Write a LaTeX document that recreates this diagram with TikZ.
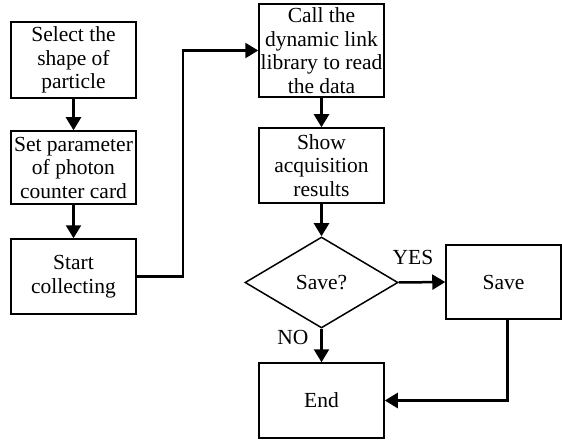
\documentclass[tikz,border=0pt]{standalone}
\usepackage{fontspec}
\setmainfont{Liberation Serif}
\usetikzlibrary{shapes.geometric, arrows.meta, positioning}

\begin{document}
\begin{tikzpicture}[
            x=1pt, y=-1pt,
            box/.style={rectangle, draw, line width=1.5pt, minimum width=125pt,
                        inner sep=0pt, align=center,
                        font=\fontsize{21.5}{23.5}\selectfont},
            decision/.style={diamond, draw, line width=1.5pt, aspect=1.68,
                             minimum width=153pt, minimum height=91pt, inner sep=0pt,
                             font=\fontsize{21.5}{23.5}\selectfont},
            lbl/.style={font=\fontsize{21.5}{23.5}\selectfont, inner sep=0pt},
            arrow/.style={-{Triangle[length=13pt, width=15pt]}, line width=2.5pt}
        ]
        \useasboundingbox (0,0) rectangle (562,441);

        % ===== LEFT COLUMN =====
        \node[box, minimum height=76pt] (shape) at (73.5,60) {Select the\\shape of\\particle};
        \node[box, minimum height=73pt] (param) at (73.5,167.5) {Set parameter\\of photon\\counter card};
        \node[box, minimum height=75pt] (start) at (73.5,276.5) {Start\\collecting};

        % ===== RIGHT COLUMN =====
        \node[box, minimum height=93pt] (call) at (321.5,50.5) {Call the\\dynamic link\\library to read\\the data};
        \node[box, minimum height=75pt] (show) at (321.5,165.5) {Show\\acquisition\\results};
        \node[decision] (ask) at (321.5,282.5) {Save?};
        \node[box, minimum width=115pt, minimum height=74pt] (save) at (503.5,282) {Save};
        \node[box, minimum height=75pt] (stop) at (321.5,400.5) {End};

        % ===== LABELS =====
        \node[lbl] (yes) at (413,257) {YES};
        \node[lbl] (no) at (293,337) {NO};

        % ===== ARROWS =====
        \draw[arrow] (shape) -- (param);
        \draw[arrow] (param) -- (start);
        \draw[arrow] (start.east) -- ++(46,0) coordinate (bend) |- (call.west);
        \draw[arrow] (call) -- (show);
        \draw[arrow] (show) -- (ask);
        \draw[arrow] (ask.east) -- (save.west);
        \draw[arrow] (ask.south) -- (stop.north);
        \draw[arrow] ([xshift=4pt]save.south) |- (stop.east);

        \end{tikzpicture}
\end{document}
